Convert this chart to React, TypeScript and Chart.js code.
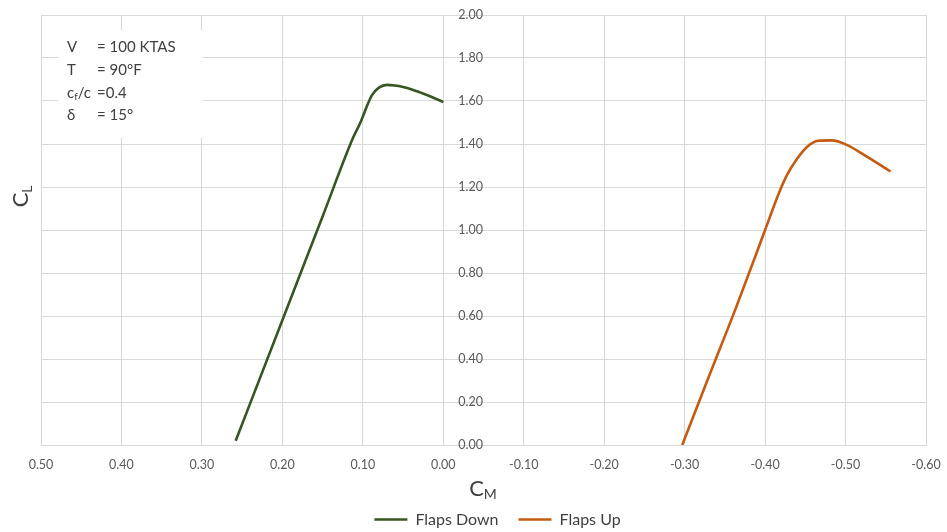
import React, { useEffect, useRef } from "react";
import { Chart, registerables } from "chart.js";

Chart.register(...registerables);

// C_M (x) and C_L (y) values
const flapsDownCm = [0.258, 0.2, 0.15, 0.112, 0.103, 0.095, 0.089, 0.08, 0.07, 0.06, 0.05, 0.04, 0.029, 0.015, 0.0];
const flapsDownCl = [0.02, 0.58, 1.063, 1.43, 1.5, 1.575, 1.625, 1.662, 1.675, 1.672, 1.665, 1.655, 1.64, 1.62, 1.595];

const flapsUpCm = [-0.297, -0.33, -0.364, -0.4, -0.417, -0.427, -0.44, -0.452, -0.466, -0.483, -0.502, -0.527, -0.556];
const flapsUpCl = [0.0, 0.317, 0.64, 1.0, 1.17, 1.254, 1.332, 1.386, 1.415, 1.417, 1.395, 1.34, 1.272];

const seriesNames = ["Flaps Down", "Flaps Up"];
const seriesColors = ["#375623", "#C55A11"];

const xMin = -0.6;
const xMax = 0.5;
const xStep = 0.1;
const yMin = 0;
const yMax = 2;
const yStep = 0.2;

const annotationLabels = ["V", "T", "c/c", "δ"];
const annotationValues = ["= 100 KTAS", "= 90°F", "=0.4", "= 15°"];

const FONT = "Lato, 'Open Sans', sans-serif";
const TEXT = "#595959";
const GRID = "#d9d9d9";

const fmt = (v: number) => (Math.abs(v) < 1e-9 ? 0 : v).toFixed(2);

const overlayPlugin = {
  id: "overlay",
  afterLayout(chart: any) {
    const lg = chart.legend;
    if (lg) {
      lg.left += 14;
      lg.right += 14;
      lg.top += 5.5;
      lg.bottom += 5.5;
    }
  },
  beforeDatasetsDraw(chart: any) {
    const ctx = chart.ctx as CanvasRenderingContext2D;
    const area = chart.chartArea;
    ctx.save();
    // annotation box
    const bx = area.left + 17;
    const by = area.top + 15;
    ctx.fillStyle = "#ffffff";
    ctx.fillRect(bx, by, 145, 108);
    ctx.fillStyle = "#404040";
    ctx.textBaseline = "middle";
    ctx.textAlign = "left";
    const lineYs = [32, 55, 78, 100];
    annotationLabels.forEach((lab, i) => {
      const y = area.top + lineYs[i];
      ctx.font = `15px ${FONT}`;
      if (lab === "c/c") {
        let x = area.left + 26;
        ctx.fillText("c", x, y);
        x += ctx.measureText("c").width;
        ctx.font = `10px ${FONT}`;
        ctx.fillText("f", x, y + 4);
        x += ctx.measureText("f").width;
        ctx.font = `15px ${FONT}`;
        ctx.fillText("/c", x, y);
      } else {
        ctx.fillText(lab, area.left + 26, y);
      }
      ctx.fillText(annotationValues[i], area.left + 56, y);
    });
    ctx.restore();
  },
  afterDraw(chart: any) {
    const ctx = chart.ctx as CanvasRenderingContext2D;
    const area = chart.chartArea;
    const xs = chart.scales.x;
    const ys = chart.scales.y;
    ctx.save();
    // y tick labels beside the x = 0 axis
    const x0 = xs.getPixelForValue(0);
    ctx.font = `12.5px ${FONT}`;
    ctx.fillStyle = TEXT;
    ctx.textAlign = "left";
    ctx.textBaseline = "middle";
    ys.ticks.forEach((t: any) => {
      ctx.fillText(fmt(t.value), x0 + 15, ys.getPixelForValue(t.value));
    });
    // y axis title C_L (rotated)
    ctx.save();
    ctx.translate(21, 197);
    ctx.rotate(-Math.PI / 2);
    ctx.fillStyle = "#404040";
    ctx.textAlign = "left";
    ctx.textBaseline = "middle";
    ctx.font = `22px ${FONT}`;
    const cw = ctx.measureText("C").width;
    ctx.fillText("C", -cw / 2 - 3, 0);
    ctx.font = `14px ${FONT}`;
    ctx.fillText("L", cw / 2 - 3, 6);
    ctx.restore();
    // x axis title C_M
    ctx.fillStyle = "#404040";
    ctx.font = `22px ${FONT}`;
    const cw2 = ctx.measureText("C").width;
    const cx = (area.left + area.right) / 2 - 7;
    ctx.fillText("C", cx - cw2 / 2, 489);
    ctx.font = `14px ${FONT}`;
    ctx.fillText("M", cx + cw2 / 2, 494);
    ctx.restore();
  },
};

export default function App() {
  const ref = useRef<HTMLCanvasElement | null>(null);

  useEffect(() => {
    document.body.style.margin = "0";
    const canvas = ref.current;
    if (!canvas) return;
    const datasets = [
      { cm: flapsDownCm, cl: flapsDownCl },
      { cm: flapsUpCm, cl: flapsUpCl },
    ].map((s, i) => ({
      label: seriesNames[i],
      data: s.cm.map((x, j) => ({ x, y: s.cl[j] })),
      borderColor: seriesColors[i],
      backgroundColor: seriesColors[i],
      borderWidth: 2.6,
      showLine: true,
      pointRadius: 0,
      cubicInterpolationMode: "monotone" as const,
      fill: false,
    }));

    const chart = new Chart(canvas, {
      type: "scatter",
      data: { datasets },
      plugins: [overlayPlugin],
      options: {
        animation: false,
        responsive: false,
        maintainAspectRatio: false,
        layout: { padding: { left: 41, right: 21, top: 15, bottom: 0 } },
        plugins: {
          tooltip: { enabled: false },
          legend: {
            display: true,
            position: "bottom",
            labels: {
              usePointStyle: true,
              pointStyle: "line",
              pointStyleWidth: 33,
              padding: 20,
              color: "#404040",
              font: { family: FONT, size: 16 },
            },
          },
        },
        scales: {
          x: {
            type: "linear",
            reverse: true,
            min: xMin,
            max: xMax,
            afterFit: (scale: any) => {
              scale.height = 41;
              scale.paddingLeft = 0;
              scale.paddingRight = 0;
            },
            ticks: {
              stepSize: xStep,
              autoSkip: false,
              maxRotation: 0,
              padding: 12,
              color: TEXT,
              font: { family: FONT, size: 12.5 },
              callback: (v: any) => fmt(Number(v)),
            },
            grid: { color: GRID, lineWidth: 1, drawTicks: false },
            border: { color: GRID },
          },
          y: {
            type: "linear",
            min: yMin,
            max: yMax,
            ticks: { stepSize: yStep, display: false },
            grid: { color: GRID, lineWidth: 1, drawTicks: false },
            border: { display: false },
          },
        },
      },
    });
    return () => chart.destroy();
  }, []);

  return (
    <div style={{ width: 947, height: 532 }}>
      <canvas ref={ref} width={947} height={532} />
    </div>
  );
}
